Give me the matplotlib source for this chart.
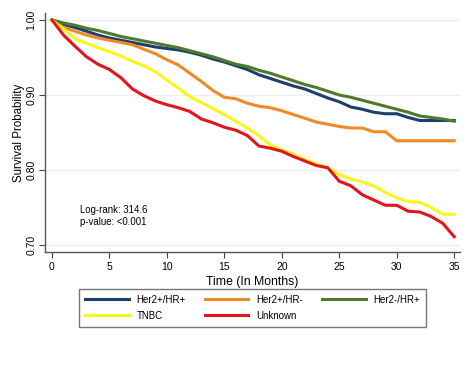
import matplotlib
matplotlib.use("Agg")
import matplotlib.pyplot as plt

plt.rcParams['font.family'] = ['Liberation Sans', 'DejaVu Sans']

months = list(range(0, 36))
her2p_hrp = [1.000, 0.994, 0.990, 0.985, 0.980, 0.976, 0.973, 0.970, 0.967, 0.964,
             0.962, 0.960, 0.957, 0.953, 0.948, 0.944, 0.939, 0.934, 0.927, 0.922,
             0.917, 0.912, 0.908, 0.902, 0.896, 0.891, 0.884, 0.881, 0.877, 0.875,
             0.875, 0.870, 0.866, 0.866, 0.866, 0.866]
her2p_hrn = [1.000, 0.990, 0.985, 0.980, 0.976, 0.973, 0.970, 0.967, 0.961, 0.955,
             0.947, 0.940, 0.929, 0.918, 0.906, 0.897, 0.895, 0.889, 0.885, 0.883,
             0.879, 0.874, 0.869, 0.864, 0.861, 0.858, 0.856, 0.856, 0.851, 0.851,
             0.839, 0.839, 0.839, 0.839, 0.839, 0.839]
her2n_hrp = [1.000, 0.996, 0.993, 0.989, 0.986, 0.982, 0.978, 0.975, 0.972, 0.969,
             0.966, 0.963, 0.959, 0.955, 0.951, 0.946, 0.941, 0.938, 0.933, 0.929,
             0.924, 0.919, 0.914, 0.910, 0.905, 0.900, 0.897, 0.893, 0.889, 0.885,
             0.881, 0.877, 0.872, 0.870, 0.868, 0.865]
tnbc = [1.000, 0.988, 0.975, 0.969, 0.963, 0.958, 0.952, 0.945, 0.939, 0.931,
        0.920, 0.909, 0.898, 0.890, 0.882, 0.874, 0.865, 0.856, 0.846, 0.833,
        0.827, 0.821, 0.814, 0.808, 0.803, 0.794, 0.788, 0.784, 0.779, 0.770,
        0.763, 0.758, 0.757, 0.750, 0.741, 0.741]
unknown = [1.000, 0.980, 0.965, 0.951, 0.941, 0.934, 0.923, 0.908, 0.899, 0.892,
           0.887, 0.883, 0.878, 0.868, 0.863, 0.857, 0.853, 0.846, 0.832, 0.829,
           0.825, 0.818, 0.812, 0.806, 0.803, 0.785, 0.779, 0.767, 0.760, 0.753,
           0.753, 0.745, 0.744, 0.738, 0.729, 0.711]

series_names = ["Her2+/HR+", "Her2+/HR-", "Her2-/HR+", "TNBC", "Unknown"]
series_data = [her2p_hrp, her2p_hrn, her2n_hrp, tnbc, unknown]
colors = ["#1c3f6e", "#f08a24", "#4e7a2c", "#f7f71e", "#e3141c"]

x_ticks = [0, 5, 10, 15, 20, 25, 30, 35]
y_ticks = [0.70, 0.80, 0.90, 1.00]
y_ticklabels = ["0.70", "0.80", "0.90", "1.00"]

fig = plt.figure(figsize=(4.74, 3.76), dpi=100)
ax = fig.add_axes([0.0949, 0.3298, 0.8755, 0.6356])

for yt in y_ticks:
    ax.axhline(yt, color="#eeeeee", lw=1.0, zorder=0)

handles = {}
for name, data, c in zip(series_names, series_data, colors):
    h, = ax.plot(months, data, color=c, lw=2.2, label=name, solid_joinstyle='round')
    handles[name] = h

ax.set_xlim(-0.61, 35.5)
ax.set_ylim(0.6907, 1.0093)
ax.set_xticks(x_ticks)
ax.set_yticks(y_ticks)
ax.set_yticklabels(y_ticklabels, rotation=90, va='center')
ax.tick_params(axis='x', labelsize=7.5, color="#444444", length=4, width=0.8, pad=3)
ax.tick_params(axis='y', labelsize=7.5, color="#444444", length=4, width=0.8, pad=2)
for s in ["top", "right"]:
    ax.spines[s].set_visible(False)
for s in ["left", "bottom"]:
    ax.spines[s].set_color("#555555")
    ax.spines[s].set_linewidth(1.0)

ax.set_xlabel("Time (In Months)", fontsize=8.8, labelpad=3)
ax.set_ylabel("Survival Probability", fontsize=8.3, labelpad=1.5)

ax.text(2.45, 0.7387, "Log-rank: 314.6\np-value: <0.001", fontsize=6.9,
        va='center', ha='left', linespacing=1.25)

order = ["Her2+/HR+", "TNBC", "Her2+/HR-", "Unknown", "Her2-/HR+"]
leg = fig.legend([handles[n] for n in order], order, ncol=3,
                 loc='upper left',
                 bbox_to_anchor=(79 / 474, 1 - 289 / 376, 347 / 474, 0.0),
                 mode='expand',
                 fontsize=7, frameon=True, fancybox=False, handlelength=4.5,
                 columnspacing=1.5, handletextpad=0.8, borderpad=0.6,
                 borderaxespad=0, labelspacing=0.6)
leg.get_frame().set_edgecolor("#555555")
leg.get_frame().set_linewidth(1.0)

fig.savefig("out.png", dpi=100)
